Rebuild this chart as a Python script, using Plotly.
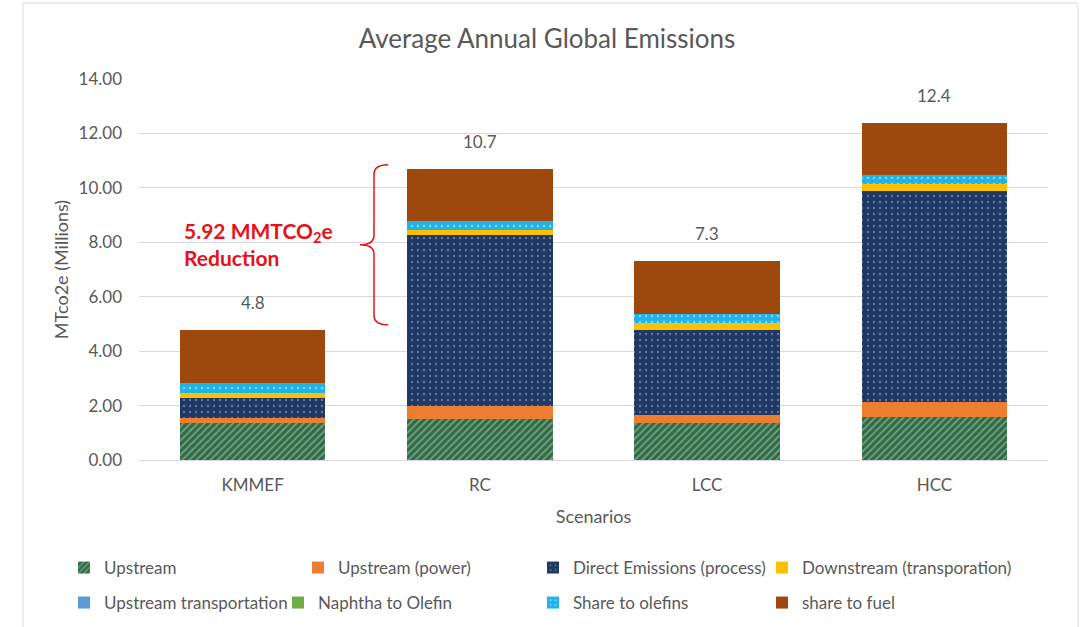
import plotly.graph_objects as go

# ---------------- data ----------------
categories = ["KMMEF", "RC", "LCC", "HCC"]
upstream = [1.35, 1.50, 1.35, 1.59]
upstream_power = [0.18, 0.49, 0.31, 0.55]
direct_emissions = [0.76, 6.26, 3.13, 7.75]
downstream = [0.18, 0.21, 0.25, 0.25]
upstream_transport = [0.0, 0.0, 0.0, 0.0]
naphtha_olefin = [0.0, 0.0, 0.0, 0.0]
share_olefins = [0.35, 0.33, 0.31, 0.34]
share_fuel = [1.95, 1.91, 1.96, 1.90]

series_names = ["Upstream", "Upstream (power)", "Direct Emissions (process)",
                "Downstream (transporation)", "Upstream transportation",
                "Naphtha to Olefin", "Share to olefins", "share to fuel"]
series_values = [upstream, upstream_power, direct_emissions, downstream,
                 upstream_transport, naphtha_olefin, share_olefins, share_fuel]

y_ticks = [0, 2, 4, 6, 8, 10, 12, 14]
reduction_text = "5.92 MMTCO<sub>2</sub>e<br>Reduction"

# ---------------- styling ----------------
FONT = "Lato"
GRAY = "#595959"
W, H = 1081, 627
L_M, R_M, T_M, B_M = 139, 33, 79, 167

styles = [
    dict(color="#2E6B45", pattern=dict(shape="/", fgcolor="#B9D3BF", size=5, solidity=0.35)),
    dict(color="#ED7D31"),
    dict(color="#1F3864", pattern=dict(shape=".", fgcolor="#9FB6DA", size=6, solidity=0.12)),
    dict(color="#FFC000"),
    dict(color="#5B9BD5"),
    dict(color="#70AD47"),
    dict(color="#1FB3E8", pattern=dict(shape=".", fgcolor="#E6F7FF", size=6, solidity=0.15)),
    dict(color="#9E480E"),
]

# legend placement (container px): symbol centre x, row centre y
legend_pos = [(92, 568), (326, 568), (561, 568), (790, 568),
              (92, 603), (306, 603), (561, 603), (790, 603)]

fig = go.Figure()
for i, (name, vals, st) in enumerate(zip(series_names, series_values, styles)):
    fig.add_trace(go.Bar(
        x=categories, y=vals, name=name, showlegend=True,
        marker=dict(color=st["color"], line=dict(width=0),
                    pattern=st.get("pattern", dict(shape=""))),
        legend="legend" if i == 0 else f"legend{i+1}",
        hovertemplate="%{x}: %{y:.2f}<extra>" + name + "</extra>",
    ))

totals = [sum(v[i] for v in series_values) for i in range(len(categories))]

# total labels
for c, t in zip(categories, totals):
    fig.add_annotation(x=c, y=t, text=f"{t:.1f}", showarrow=False,
                       yanchor="bottom", yshift=15,
                       font=dict(family=FONT, size=17, color=GRAY))

# reduction annotation
pw = W - L_M - R_M
ph = H - T_M - B_M
fig.add_annotation(xref="paper", yref="paper", x=(182 - L_M) / pw,
                   y=0.566, xanchor="left", yanchor="middle", align="left",
                   text="<b>" + reduction_text + "</b>", showarrow=False,
                   font=dict(family=FONT, size=21, color="#E8101A"))

# curly brace between KMMEF total and RC total
def px(xp):
    return (xp - L_M) / pw
y_top = totals[1] + 0.15
y_bot = totals[0] + 0.2
y_mid = (y_top + y_bot) / 2
d = 0.35
xa, xs, xt = px(388), px(374), px(360)
path = (f"M {xa},{y_top} Q {xs},{y_top} {xs},{y_top - d} "
        f"L {xs},{y_mid + d} Q {xs},{y_mid} {xt},{y_mid} "
        f"Q {xs},{y_mid} {xs},{y_mid - d} "
        f"L {xs},{y_bot + d} Q {xs},{y_bot} {xa},{y_bot}")
fig.add_shape(type="path", xref="paper", yref="y", path=path,
              line=dict(color="#E8101A", width=1.5))

# outer chart border
fig.add_shape(type="rect", xref="paper", yref="paper",
              x0=(23 - L_M) / pw, x1=(1078 - L_M) / pw,
              y0=(H - B_M - 640) / ph, y1=(H - B_M - 3) / ph,
              line=dict(color="#D9D9D9", width=1), layer="below")

layout_legends = {}
for i, (cx, cy) in enumerate(legend_pos):
    key = "legend" if i == 0 else f"legend{i+1}"
    layout_legends[key] = dict(
        xref="container", yref="container",
        x=(cx - 28) / W, y=1 - cy / H, xanchor="left", yanchor="middle",
        orientation="h", bgcolor="rgba(0,0,0,0)",
        font=dict(family=FONT, size=17, color=GRAY),
    )

fig.update_layout(
    width=W, height=H, showlegend=True,
    margin=dict(l=L_M, r=R_M, t=T_M, b=B_M, autoexpand=False),
    paper_bgcolor="white", plot_bgcolor="white",
    barmode="stack", bargap=0.36,
    font=dict(family=FONT, color=GRAY),
    title=dict(text="Average Annual Global Emissions", x=547 / W, xref="container",
               xanchor="center", y=1 - 39 / H, yanchor="middle", yref="container",
               font=dict(family=FONT, size=26, color=GRAY)),
    xaxis=dict(showgrid=False, showline=False, ticks="", ticklabelstandoff=13,
               tickfont=dict(family=FONT, size=17, color=GRAY),
               title=dict(text="Scenarios", standoff=16,
                          font=dict(family=FONT, size=18, color=GRAY))),
    yaxis=dict(range=[0, 14], tickvals=y_ticks, tickformat=".2f",
               showgrid=True, gridcolor="#D9D9D9", gridwidth=1,
               zeroline=True, zerolinecolor="#D9D9D9", zerolinewidth=1,
               showline=False, ticks="", ticklabelstandoff=16,
               tickfont=dict(family=FONT, size=17, color=GRAY),
               title=dict(text="MTco2e (Millions)", standoff=5,
                          font=dict(family=FONT, size=18, color=GRAY))),
    **layout_legends,
)

fig.write_html("out.html")
